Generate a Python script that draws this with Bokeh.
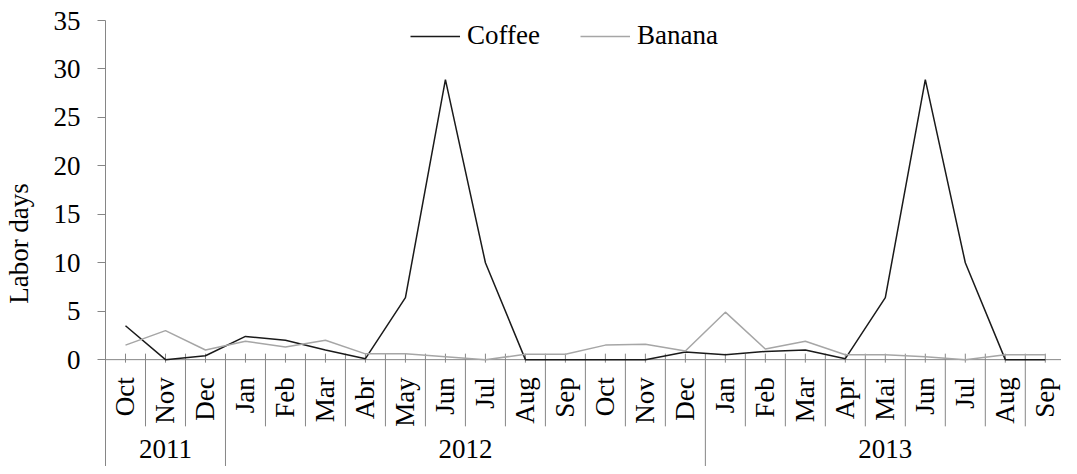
import math
from bokeh.plotting import figure
from bokeh.models import Range1d, FixedTicker, Legend, LegendItem
from bokeh.core.properties import value
from bokeh.embed import file_html
from bokeh.resources import INLINE

# ---------------- data ----------------
months = ["Oct", "Nov", "Dec",
          "Jan", "Feb", "Mar", "Abr", "May", "Jun", "Jul", "Aug", "Sep", "Oct", "Nov", "Dec",
          "Jan", "Feb", "Mar", "Apr", "Mai", "Jun", "Jul", "Aug", "Sep"]
years = ["2011", "2012", "2013"]
months_per_year = [3, 12, 9]
coffee = [3.5, 0.0, 0.4, 2.4, 2.0, 1.0, 0.1, 6.4, 28.9, 10.0, 0.0, 0.0,
          0.0, 0.0, 0.8, 0.5, 0.85, 1.0, 0.1, 6.4, 28.9, 10.0, 0.0, 0.0]
banana = [1.5, 3.0, 1.0, 1.9, 1.3, 2.0, 0.6, 0.6, 0.3, 0.0, 0.55, 0.55,
          1.5, 1.6, 0.9, 4.9, 1.1, 1.9, 0.5, 0.5, 0.3, 0.0, 0.5, 0.5]
y_ticks = [0, 5, 10, 15, 20, 25, 30, 35]

# ---------------- layout ----------------
FONT = "Liberation Serif"
FS = "27px"
GRAY = "#868686"
W, H = 1061, 466
LEFT, TOP = 100, 20
PX_X = 40.2           # pixels per category
PX_Y = 9.69           # pixels per labor day
AX0 = 359.3           # pixel row of value 0 (from figure top)
frame_w = W - LEFT
frame_h = H - TOP
x_start = -0.5
x_end = x_start + frame_w / PX_X
y_end = y_ticks[-1]
y_start = y_end - frame_h / PX_Y

p = figure(width=W, height=H, x_range=Range1d(x_start, x_end), y_range=Range1d(y_start, y_end),
           output_backend="svg", toolbar_location=None, x_axis_location=None,
           min_border_left=LEFT, min_border_top=TOP, min_border_right=0, min_border_bottom=0)
p.xgrid.visible = False
p.ygrid.visible = False
p.outline_line_color = None
p.background_fill_color = "white"
p.border_fill_color = "white"

ax = p.yaxis[0]
ax.ticker = FixedTicker(ticks=y_ticks)
ax.minor_tick_line_color = None
ax.axis_line_color = GRAY
ax.major_tick_line_color = GRAY
ax.major_tick_in = 0
ax.major_tick_out = 8
ax.major_label_standoff = 17
ax.major_label_text_font = FONT
ax.major_label_text_font_size = FS
ax.major_label_text_color = "black"
ax.axis_label = "Labor days"
ax.axis_label_text_font = FONT
ax.axis_label_text_font_size = FS
ax.axis_label_text_font_style = "normal"
ax.axis_label_text_color = "black"
ax.axis_label_standoff = 17

n = len(months)
idx = list(range(n))

# category axis line at 0
p.segment(x0=[x_start], y0=[0], x1=[x_end], y1=[0], line_color=GRAY, line_width=1)

# tick crosses at category centres
up = 6 / PX_Y
down_c = -3 / PX_Y
p.segment(x0=idx, y0=[up] * n, x1=idx, y1=[down_c] * n, line_color=GRAY, line_width=1)

# separators at category boundaries
year_bounds = []
acc = 0
for c in months_per_year[:-1]:
    acc += c
    year_bounds.append(acc)
month_sep_y = -(426 - AX0) / PX_Y
bx, by1 = [], []
for i in range(1, n):
    bx.append(i - 0.5)
    by1.append(y_start if i in year_bounds else month_sep_y)
p.segment(x0=bx, y0=[up] * len(bx), x1=bx, y1=by1, line_color=GRAY, line_width=1)

# series
r_c = p.line(idx, coffee, line_color="#1a1a1a", line_width=1.5)
r_b = p.line(idx, banana, line_color="#a6a6a6", line_width=1.5)

# month labels
label_y = -(377 - AX0) / PX_Y
p.text(x=idx, y=[label_y] * n, text=months, angle=math.pi / 2,
       text_align="right", text_baseline="middle",
       text_font=value(FONT), text_font_size=FS, text_color="black")

# year labels
yc, start = [], 0
for c in months_per_year:
    yc.append(start + (c - 1) / 2)
    start += c
year_y = -(449 - AX0) / PX_Y
p.text(x=yc, y=[year_y] * len(years), text=years,
       text_align="center", text_baseline="middle",
       text_font=value(FONT), text_font_size=FS, text_color="black")

# legend
legend = Legend(items=[LegendItem(label="Coffee", renderers=[r_c]),
                       LegendItem(label="Banana", renderers=[r_b])],
                orientation="horizontal", location=(413 - 8 - LEFT, frame_h - 31),
                glyph_width=50, glyph_height=30, label_height=30, label_standoff=7,
                spacing=40, padding=0, margin=0, border_line_color=None,
                background_fill_alpha=0, label_text_font=FONT, label_text_font_size=FS,
                label_text_color="black")
p.add_layout(legend)

open("out.html", "w").write(file_html(p, INLINE))
